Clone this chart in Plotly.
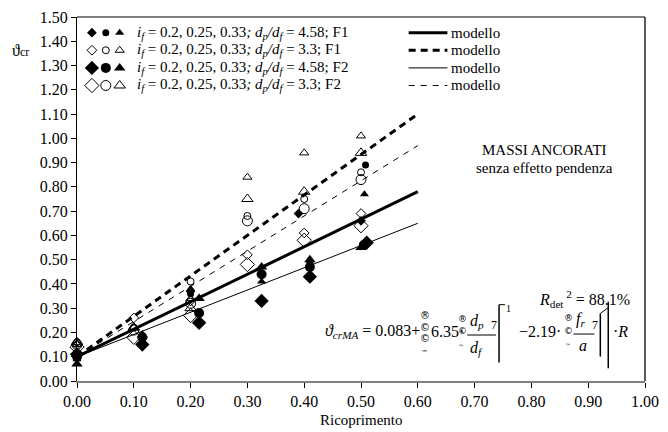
import plotly.graph_objects as go

# ---------------- data ----------------
# F1, dp/df = 4.58 (small filled)
A_dia_x = [0.00, 0.20, 0.39, 0.50]
A_dia_y = [0.11, 0.37, 0.69, 0.66]
A_cir_x = [0.00, 0.20, 0.41, 0.508]
A_cir_y = [0.10, 0.36, 0.49, 0.89]
A_tri_x = [0.00, 0.20, 0.325, 0.506]
A_tri_y = [0.09, 0.38, 0.41, 0.77]

# F1, dp/df = 3.3 (small open)
B_dia_x = [0.00, 0.10, 0.20, 0.30, 0.40, 0.50]
B_dia_y = [0.15, 0.26, 0.33, 0.52, 0.61, 0.69]
B_cir_x = [0.00, 0.10, 0.20, 0.30, 0.40, 0.50]
B_cir_y = [0.16, 0.22, 0.41, 0.68, 0.75, 0.86]
B_tri_x = [0.00, 0.10, 0.20, 0.30, 0.40, 0.50]
B_tri_y = [0.15, 0.22, 0.34, 0.84, 0.94, 1.01]

# F2, dp/df = 4.58 (large filled)
C_dia_x = [0.00, 0.115, 0.215, 0.325, 0.41, 0.51]
C_dia_y = [0.11, 0.15, 0.24, 0.33, 0.43, 0.57]
C_cir_x = [0.00, 0.115, 0.215, 0.325, 0.41, 0.505]
C_cir_y = [0.10, 0.18, 0.28, 0.44, 0.47, 0.56]
C_tri_x = [0.00, 0.115, 0.215, 0.325, 0.41, 0.50]
C_tri_y = [0.07, 0.19, 0.34, 0.47, 0.50, 0.55]

# F2, dp/df = 3.3 (large open)
D_dia_x = [0.00, 0.10, 0.20, 0.30, 0.40, 0.50]
D_dia_y = [0.14, 0.18, 0.27, 0.48, 0.58, 0.64]
D_cir_x = [0.00, 0.10, 0.20, 0.30, 0.40, 0.50]
D_cir_y = [0.15, 0.21, 0.32, 0.66, 0.71, 0.83]
D_tri_x = [0.00, 0.10, 0.20, 0.30, 0.40, 0.50]
D_tri_y = [0.16, 0.22, 0.30, 0.75, 0.78, 0.94]

# model lines
model_x = [0.0, 0.6]
model_F1_458 = [0.10, 0.78]
model_F1_33 = [0.10, 1.10]
model_F2_458 = [0.10, 0.65]
model_F2_33 = [0.10, 0.97]

x_ticks = [0.0, 0.1, 0.2, 0.3, 0.4, 0.5, 0.6, 0.7, 0.8, 0.9, 1.0]
y_ticks = [0.0, 0.1, 0.2, 0.3, 0.4, 0.5, 0.6, 0.7, 0.8, 0.9, 1.0, 1.1, 1.2, 1.3, 1.4, 1.5]

legend_labels = [
    "<i>i<sub>f</sub></i> = 0.2, 0.25, 0.33<i>; d<sub>p</sub>/d<sub>f</sub></i> = 4.58; F1",
    "<i>i<sub>f</sub></i> = 0.2, 0.25, 0.33<i>; d<sub>p</sub>/d<sub>f</sub></i> = 3.3; F1",
    "<i>i<sub>f</sub></i> = 0.2, 0.25, 0.33<i>; d<sub>p</sub>/d<sub>f</sub></i> = 4.58; F2",
    "<i>i<sub>f</sub></i> = 0.2, 0.25, 0.33<i>; d<sub>p</sub>/d<sub>f</sub></i> = 3.3; F2",
]

FONT = "Liberation Serif, Times New Roman, serif"
SYMFONT = "DejaVu Sans, sans-serif"
BLK = "#000000"
W, H = 668, 432
ML, MR, MT, MB = 77, 19, 9, 51

fig = go.Figure()

# model lines
line_styles = [
    (model_F1_458, 3, "solid"),
    (model_F1_33, 3, "7px,5px"),
    (model_F2_458, 1, "solid"),
    (model_F2_33, 1, "6px,6px"),
]
for ys, w, d in line_styles:
    fig.add_trace(go.Scatter(x=model_x, y=ys, mode="lines",
                             line=dict(color=BLK, width=w, dash=d),
                             showlegend=False, hoverinfo="skip"))

def marker(symbol, size, open_):
    if open_:
        return dict(symbol=symbol + "-open", size=size, color=BLK, line=dict(color=BLK, width=1))
    return dict(symbol=symbol, size=size, color=BLK, line=dict(width=0))

groups = [
    ((A_dia_x, A_dia_y), (A_cir_x, A_cir_y), (A_tri_x, A_tri_y), False, (7.5, 7, 8)),
    ((B_dia_x, B_dia_y), (B_cir_x, B_cir_y), (B_tri_x, B_tri_y), True, (7.5, 7, 8)),
    ((C_dia_x, C_dia_y), (C_cir_x, C_cir_y), (C_tri_x, C_tri_y), False, (11, 10, 10)),
    ((D_dia_x, D_dia_y), (D_cir_x, D_cir_y), (D_tri_x, D_tri_y), True, (11, 10, 10)),
]
syms = ["diamond", "circle", "triangle-up"]
for idx in [2, 3, 0, 1]:
    g = groups[idx]
    for j in range(3):
        fig.add_trace(go.Scatter(x=g[j][0], y=g[j][1], mode="markers",
                                 marker=marker(syms[j], g[4][j], g[3]),
                                 showlegend=False, cliponaxis=False))

# ------------- helpers: pixel coordinates -> paper -------------
PW = W - ML - MR
PH = H - MT - MB
def px(x):
    return (x - ML) / PW
def py(y):
    return (H - MB - y) / PH

# legend symbols drawn on an overlay axis in pixel units
leg_rows = [25, 43, 61, 79]
leg_mx = [92, 106, 120]
for r, g in enumerate(groups):
    for j in range(3):
        fig.add_trace(go.Scatter(x=[leg_mx[j]], y=[leg_rows[r]], xaxis="x2", yaxis="y2",
                                 mode="markers", marker=marker(syms[j], g[4][j], g[3]),
                                 showlegend=False, hoverinfo="skip"))

ann = []
def T(x, y, text, size=15, xanchor="left", yanchor="middle", family=FONT):
    ann.append(dict(x=px(x), y=py(y), xref="paper", yref="paper", text=text, showarrow=False,
                    xanchor=xanchor, yanchor=yanchor,
                    font=dict(family=family, size=size, color=BLK)))

shapes = []
def L(x0, y0, x1, y1, w=1, dash="solid", color=BLK):
    shapes.append(dict(type="line", x0=px(x0), y0=py(y0), x1=px(x1), y1=py(y1),
                       xref="paper", yref="paper",
                       line=dict(color=color, width=w, dash=dash)))

for r, lab in enumerate(legend_labels):
    T(135, leg_rows[r], lab, 15)
    T(452, leg_rows[r], "modello", 15)

leg_line_styles = [(3, "solid"), (3, "7px,5px"), (1, "solid"), (1, "6px,6px")]
for r, (w, d) in enumerate(leg_line_styles):
    L(411, leg_rows[r], 450, leg_rows[r], w, d)

# frame: top (grey) and right (black)
shapes.append(dict(type="line", xref="paper", yref="paper", x0=0, x1=1, y0=1, y1=1,
                   line=dict(color="#808080", width=2)))
shapes.append(dict(type="line", xref="paper", yref="paper", x0=1, x1=1, y0=0, y1=1,
                   line=dict(color="#222222", width=1.5)))

# texts
T(548, 145, "MASSI ANCORATI", 15, "center")
T(548, 163, "senza effetto pendenza", 15, "center")
T(588, 297, "<i>R</i><sub>det</sub><sup> 2</sup> = 88.1%", 16, "center")
T(20, 43, "ϑ<span style='font-size:12px'>cr</span>", 16, "center")
T(363, 421, "Ricoprimento", 15, "center")

# equation
EY = 330
T(424, EY, "<i>ϑ<sub>crMA</sub></i> = 0.083+", 16, "right")
for k, yy in enumerate([314, 326, 338]):
    T(427, yy, ["®", "©", "©"][k], 10, "center", family=SYMFONT)
T(427, 352, "™", 7, "center", family=SYMFONT)
T(431, EY, "6.35·", 16, "left")
T(465, 318, "®", 9, "center", family=SYMFONT)
T(465, 330, "©", 9, "center", family=SYMFONT)
T(464, 346, "™", 6, "center", family=SYMFONT)
T(471, 320, "<i>d<sub>p</sub></i>", 16, "left")
T(471, 348, "<i>d<sub>f</sub></i>", 16, "left")
L(470, 334, 499, 334, 1)
T(497, 324, "7", 12, "center")
L(502, 303, 502, 362, 1.5)
L(502, 303, 508, 303, 1)
T(512, 307, "1", 10, "center")
T(520, EY, "−2.19·", 16, "left")
T(572, 317, "®", 9, "center", family=SYMFONT)
T(572, 330, "©", 9, "center", family=SYMFONT)
T(571, 345, "™", 6, "center", family=SYMFONT)
T(578, 318, "<i>f<sub>r</sub></i>", 16, "left")
T(581, 345, "<i>a</i>", 16, "left")
L(577, 333, 598, 333, 1)
T(599, 324, "7", 12, "center")
L(604, 312, 604, 356, 1.5)
L(612, 300, 612, 368, 1.5)
L(604, 312, 612, 306, 1)
T(615, EY, "·<i>R</i>", 16, "left")

fig.update_layout(
    width=W, height=H,
    margin=dict(l=ML, r=MR, t=MT, b=MB),
    paper_bgcolor="white", plot_bgcolor="white",
    showlegend=False,
    font=dict(family=FONT, size=16, color=BLK),
    xaxis=dict(range=[0, 1], tickvals=x_ticks, tickformat=".2f", ticks="outside",
               ticklen=5, tickcolor=BLK, showgrid=False, zeroline=False,
               showline=True, linecolor="#808080", linewidth=2,
               tickfont=dict(family=FONT, size=16, color=BLK)),
    yaxis=dict(range=[0, 1.5], tickvals=y_ticks, tickformat=".2f", ticks="outside",
               ticklen=5, tickcolor=BLK, showgrid=False, zeroline=False,
               showline=True, linecolor=BLK, linewidth=1,
               tickfont=dict(family=FONT, size=16, color=BLK)),
    xaxis2=dict(range=[ML, W - MR], overlaying="x", visible=False, fixedrange=True),
    yaxis2=dict(range=[H - MB, MT], overlaying="y", visible=False, fixedrange=True),
    annotations=ann,
    shapes=shapes,
)

fig.write_html("out.html", config={"displayModeBar": False, "staticPlot": True},
               post_script="document.body.style.margin='0px';")
